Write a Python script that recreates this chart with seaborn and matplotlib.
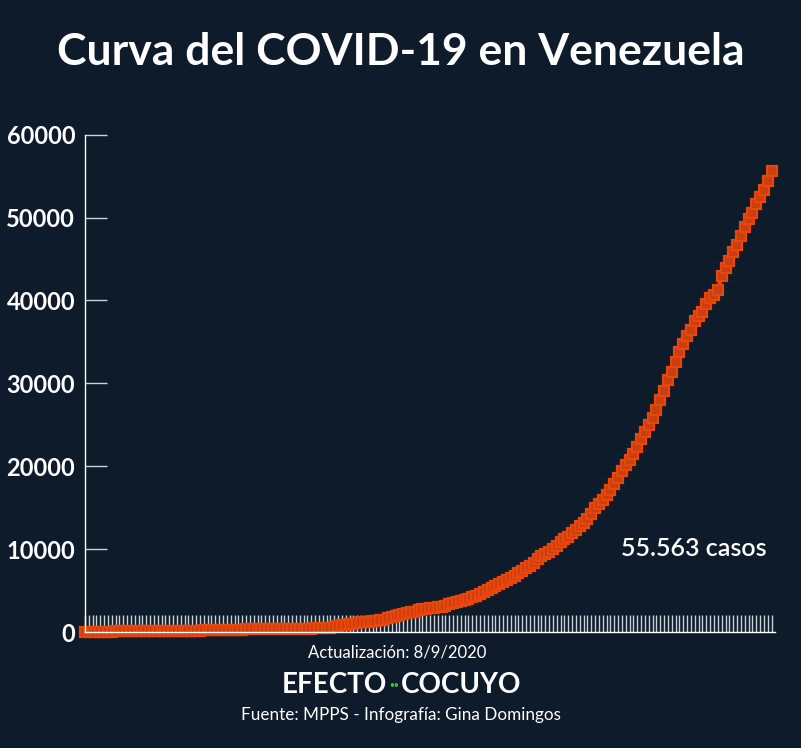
#!/usr/bin/env python3
import matplotlib
matplotlib.use('Agg')
import matplotlib.pyplot as plt
import numpy as np
import pandas as pd
import seaborn as sns

BG = '#0d1b2b'
ORANGE = '#e8470c'

# casos acumulados, 13/3/2020 a 8/9/2020
FECHA_INICIO = '2020-03-13'
FECHA_FIN = '2020-09-08'
CASOS = [
    2, 10, 17, 33, 33, 36, 42, 42, 70, 77, 77, 84, 91, 106, 107, 119, 119, 135, 135,
    143, 146, 153, 155, 159, 165, 166, 167, 171, 175, 181, 181, 189, 193, 197, 204,
    227, 227, 256, 256, 285, 288, 298, 311, 318, 323, 325, 329, 329, 333,
    335, 345, 357, 361, 379, 381, 388, 402, 414, 422, 423, 440, 455, 459, 504, 541,
    618, 749, 824, 882, 944, 1010, 1121, 1177, 1211, 1245, 1325, 1370, 1459, 1510, 1662,
    1819, 1952, 2087, 2145, 2316, 2377, 2473, 2632, 2738, 2814, 2879, 2904, 2978, 3062,
    3150, 3386, 3483, 3591, 3789, 3917, 4048, 4187, 4365, 4563, 4779, 5130, 5297, 5530,
    5832, 6062,
    6273, 6537, 6750, 7169, 7411, 7693, 8010, 8372, 8803, 9178, 9465, 9707, 10010,
    10428, 10854, 11191, 11483, 11891, 12334, 12774, 13164, 13613, 14263, 14929, 15463,
    15988, 16571, 17158, 17859, 18574, 19443,
    20206, 20754, 21438, 22299, 23280, 24166, 24961, 25805, 26800, 27938, 29088, 30369,
    31381, 32607, 33755, 34802, 35697, 36435, 37465, 38140, 38557, 39564, 40338, 40697,
    41305, 42898, 43879, 44715, 45868, 46728, 47756,
    48883, 49877, 50574, 51635, 52465, 53289, 54350, 55563,
]
Y_TICKS = [0, 10000, 20000, 30000, 40000, 50000, 60000]

TITULO = 'Curva del COVID-19 en Venezuela'
ETIQUETA_FINAL = '55.563 casos'
ACTUALIZACION = 'Actualización: 8/9/2020'
FUENTE = 'Fuente: MPPS - Infografía: Gina Domingos'

fechas = pd.date_range(FECHA_INICIO, FECHA_FIN, freq='D')
df = pd.DataFrame({'fecha': fechas, 'casos': CASOS})

sns.set_style('white')
plt.rcParams['font.family'] = ['Lato', 'DejaVu Sans']

fig = plt.figure(figsize=(8.01, 7.48), dpi=100, facecolor=BG)
ax = fig.add_axes([0.106, 0.155, 0.862, 0.665])
ax.set_facecolor(BG)

sns.lineplot(data=df, x='fecha', y='casos', ax=ax, color=ORANGE,
             linewidth=3, marker='s', markersize=6.6,
             markeredgecolor=ORANGE, markerfacecolor='#c93f10',
             markeredgewidth=1.6, clip_on=False)

ax.set_ylim(0, 60000)
ax.set_xlim(fechas[0], fechas[-1] + pd.Timedelta(days=1))
ax.set_yticks(Y_TICKS)
ax.set_yticklabels([str(v) for v in Y_TICKS])
ax.set_xticks(fechas)
ax.set_xticklabels([])
ax.set_xlabel('')
ax.set_ylabel('')

ax.tick_params(axis='x', direction='in', length=12, width=1,
               color='#c9d0d8', bottom=True)
ax.tick_params(axis='y', direction='in', length=16, width=1,
               color='#c9d0d8', labelcolor='white', labelsize=17, pad=7, left=True)
for lab in ax.get_yticklabels():
    lab.set_fontweight('bold')

for s in ['top', 'right']:
    ax.spines[s].set_visible(False)
for s in ['left', 'bottom']:
    ax.spines[s].set_color('white')
    ax.spines[s].set_linewidth(1)

fig.text(0.5, 0.930, TITULO, ha='center', va='center', color='white',
         fontsize=32, fontweight='bold')
ax.text(0.988, 0.167, ETIQUETA_FINAL, transform=ax.transAxes, ha='right',
        va='center', color='white', fontsize=18, fontweight='semibold')

fig.text(0.496, 0.128, ACTUALIZACION, ha='center', va='center',
         color='white', fontsize=12)
fig.text(0.483, 0.084, 'EFECTO', ha='right', va='center', color='white',
         fontsize=20, fontweight='bold')
fig.text(0.4915, 0.084, '··', ha='center', va='center', color='#35c73a',
         fontsize=13, fontweight='bold')
fig.text(0.501, 0.084, 'COCUYO', ha='left', va='center', color='white',
         fontsize=20, fontweight='bold')
fig.text(0.5, 0.044, FUENTE, ha='center', va='center', color='white',
         fontsize=12.3)

fig.savefig('out.png', dpi=100, facecolor=BG)
plt.close(fig)
